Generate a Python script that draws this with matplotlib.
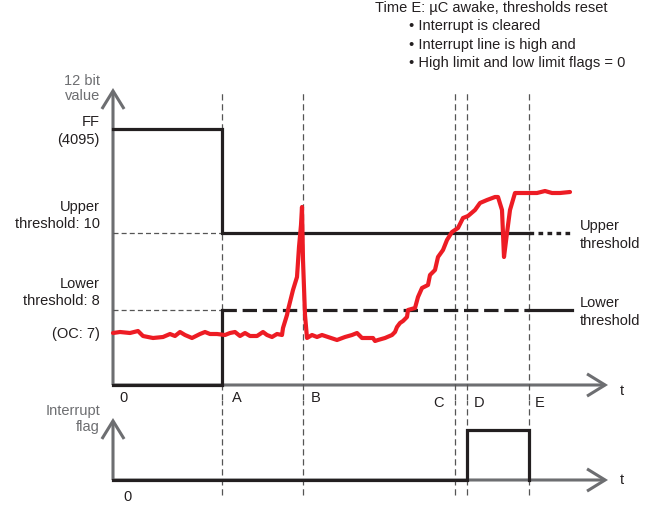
import matplotlib.pyplot as plt
from matplotlib.patches import FancyArrowPatch

plt.rcParams['font.family'] = ['Liberation Sans', 'DejaVu Sans']

# time axis (arbitrary units, 0 = origin)
events = ["A", "B", "C", "D", "E"]
event_t = [109, 190, 342, 354, 416]
t_end = 495

# value levels (schematic units)
level_ff = 256
level_upper = 152
level_lower = 75
level_oc = 52

# red sensor signal
sig_t = [0, 7, 17, 25, 30, 40, 50, 57, 62, 67, 72, 79, 87, 92, 97, 104, 112, 117, 122,
         127, 132, 137, 144, 150, 154, 159, 164, 169, 170, 174,
         175, 180, 184, 186, 188, 189, 190, 192, 194,
         199, 204, 209, 215, 224, 232, 239, 244, 249, 254, 260, 262, 265, 272, 279, 282,
         284, 287, 290, 294,
         295, 302, 305, 309, 315, 317, 322, 325, 330, 334, 339, 345, 350, 355, 362, 367,
         374, 382, 385, 389, 391, 394, 397, 402, 414, 424, 432, 439, 447, 457]
sig_v = [52, 53, 52, 54, 49, 47, 48, 51, 49, 53, 50, 47, 51, 53, 51, 51, 50, 52, 53,
         49, 52, 49, 49, 53, 50, 48, 51, 50, 57, 70,
         75, 95, 108, 138, 160, 178, 125, 70, 47,
         50, 48, 50, 48, 45, 48, 50, 52, 47, 47, 47, 44, 45, 47, 50, 53,
         58, 62, 64, 68,
         75, 77, 88, 97, 100, 110, 115, 128, 135, 145, 153, 157, 167, 169, 175, 182,
         185, 188, 188, 175, 128, 152, 175, 192, 192, 192, 194, 192, 192, 193]

# interrupt flag
flag_t = [0, 354, 354, 416, 416]
flag_v = [0, 0, 50, 50, 0]

black = "#231f20"
grey = "#6d6e71"
red = "#ed1c24"

fig = plt.figure(figsize=(6.59, 5.07), dpi=100)
ax = fig.add_axes([0, 107 / 507, 1, 400 / 507])
ax2 = fig.add_axes([0, 0, 1, 107 / 507])
for a in (ax, ax2):
    a.set_xlim(-113, 546)
    a.axis("off")
ax.set_ylim(-15, 385)
ax2.set_ylim(-27, 80)

tA, tB, tC, tD, tE = event_t

# dashed event markers
ax.vlines(event_t, -15, 295, colors="#555555", lw=0.9, linestyles=(0, (5, 3)))
ax2.vlines(event_t, -15, 80, colors="#555555", lw=0.9, linestyles=(0, (5, 3)))

# threshold guide lines
ax.hlines([level_upper, level_lower], 0, tA, colors="#555555", lw=0.9, linestyles=(0, (4, 2.5)))


def axis_arrow(a, start, end):
    arr = FancyArrowPatch(start, end, arrowstyle="->,head_length=13,head_width=8",
                          mutation_scale=1, color=grey, lw=2.2, shrinkA=0, shrinkB=0,
                          joinstyle="miter", capstyle="butt")
    a.add_patch(arr)


axis_arrow(ax, (0, 0), (0, 297))
axis_arrow(ax, (0, 0), (t_end, 0))
axis_arrow(ax2, (0, 0), (0, 62))
axis_arrow(ax2, (0, 0), (t_end, 0))

# upper threshold register
ax.plot([0, tA, tA, tE], [level_ff, level_ff, level_upper, level_upper],
        color=black, lw=2.3, solid_joinstyle="miter")
ax.plot([tE, 459], [level_upper, level_upper], color=black, lw=2.4, linestyle=(0, (1.4, 1.3)))
# lower threshold register
ax.plot([0, tA, tA], [0, 0, level_lower], color=black, lw=2.3, solid_joinstyle="miter")
ax.plot([tA, tE], [level_lower, level_lower], color=black, lw=2.3, linestyle=(0, (4.5, 1.8)))
ax.plot([tE, 459], [level_lower, level_lower], color=black, lw=2.3)

# signal
ax.plot(sig_t, sig_v, color=red, lw=3.0, solid_joinstyle="round", solid_capstyle="round")

# interrupt flag
ax2.plot(flag_t, flag_v, color=black, lw=2.3, solid_joinstyle="miter")

fs = 10.5
ls = 1.3
kw = dict(fontsize=fs, ha="right", clip_on=False)
ax.text(-13, 282, "12 bit\nvalue", color=grey, va="bottom", linespacing=1.1, **kw)
ax.text(-13, level_ff - 2, "FF\n(4095)", color=black, va="center", linespacing=ls, **kw)
ax.text(-13, level_upper + 2, "Upper\nthreshold: 10", color=black, va="bottom", linespacing=ls, **kw)
ax.text(-13, level_lower + 2, "Lower\nthreshold: 8", color=black, va="bottom", linespacing=ls, **kw)
ax.text(-13, level_oc - 1, "(OC: 7)", color=black, va="center", **kw)

ax.text(467, level_upper - 2, "Upper\nthreshold", fontsize=fs, color=black, va="center", linespacing=ls)
ax.text(467, level_lower - 2, "Lower\nthreshold", fontsize=fs, color=black, va="center", linespacing=ls)

ax.text(10, -13, "0", fontsize=fs, color=black, ha="center", va="center")
offsets = [(15, -13), (13, -13), (-16, -18), (12, -18), (11, -18)]
for name, t, (dx, dy) in zip(events, event_t, offsets):
    ax.text(t + dx, dy, name, fontsize=fs, color=black, ha="center", va="center", clip_on=False)
ax.text(t_end + 12, -6, "t", fontsize=fs, color=black, va="center")
ax2.text(t_end + 12, 0, "t", fontsize=fs, color=black, va="center")
ax2.text(15, -17, "0", fontsize=fs, color=black, ha="center", va="center")
ax2.text(-13, 61, "Interrupt\nflag", color=grey, va="center", linespacing=1.15, **kw)

ax.text(262, 377, "Time E: \u00b5C awake, thresholds reset", fontsize=fs, color=black, va="center")
bullets = ["Interrupt is cleared", "Interrupt line is high and", "High limit and low limit flags = 0"]
for i, b in enumerate(bullets):
    ax.text(296, 359 - i * 18.5, "\u2022 " + b, fontsize=fs, color=black, va="center")

fig.savefig("out.png", dpi=100)
